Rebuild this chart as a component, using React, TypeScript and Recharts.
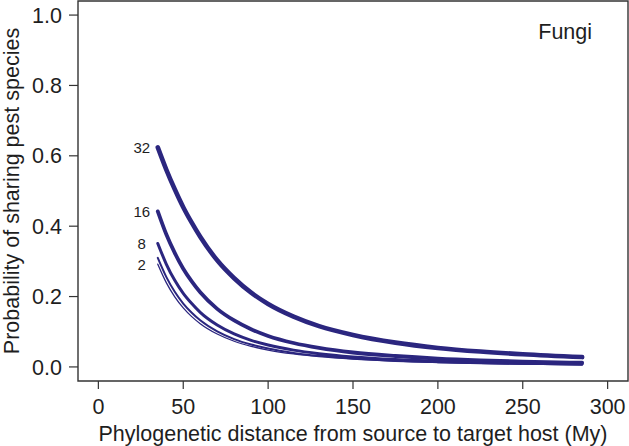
import React from 'react';
import { LineChart, Line, XAxis, YAxis, ReferenceArea, ReferenceDot, LabelList } from 'recharts';

const distances = [35, 40, 45, 50, 55, 60, 70, 80, 90, 100, 115, 130, 150, 175, 200, 225, 250, 285];
const p32 = [0.624, 0.561, 0.505, 0.454, 0.41, 0.37, 0.303, 0.252, 0.211, 0.179, 0.143, 0.116, 0.091, 0.069, 0.054, 0.0437, 0.036, 0.028];
const p16 = [0.442, 0.377, 0.324, 0.279, 0.243, 0.212, 0.165, 0.132, 0.107, 0.088, 0.068, 0.054, 0.041, 0.031, 0.0237, 0.0188, 0.0153, 0.0118];
const p8 = [0.351, 0.2925, 0.246, 0.209, 0.18, 0.155, 0.119, 0.0937, 0.0755, 0.0622, 0.0477, 0.0377, 0.0285, 0.0211, 0.0163, 0.0129, 0.0105, 0.0081];
const p4 = [0.31, 0.256, 0.2135, 0.18, 0.154, 0.1326, 0.101, 0.0791, 0.0636, 0.0522, 0.0399, 0.0315, 0.0239, 0.0176, 0.0136, 0.0107, 0.0087, 0.0067];
const p2 = [0.292, 0.2397, 0.1994, 0.168, 0.143, 0.123, 0.0935, 0.073, 0.0586, 0.048, 0.0368, 0.029, 0.0219, 0.0162, 0.0125, 0.0099, 0.008, 0.0062];

const xTicks = [0, 50, 100, 150, 200, 250, 300];
const yTicks = [0, 0.2, 0.4, 0.6, 0.8, 1.0];
const panelTitle = 'Fungi';
const xTitle = 'Phylogenetic distance from source to target host (My)';
const yTitle = 'Probability of sharing pest species';

const series = [
  { key: 'p32', label: '32', values: p32, width: 4.6 },
  { key: 'p16', label: '16', values: p16, width: 3.8 },
  { key: 'p8', label: '8', values: p8, width: 3.0 },
  { key: 'p4', label: '', values: p4, width: 2.0 },
  { key: 'p2', label: '2', values: p2, width: 1.3 },
];

const data = distances.map((d, i) => {
  const row: Record<string, number> = { d };
  series.forEach((s) => {
    row[s.key] = s.values[i];
  });
  return row;
});

const FONT = '"Liberation Sans", Arial, Helvetica, sans-serif';
const LINE = '#2b267f';
const INK = '#1e1e1e';
const BIG = 21.5;

const startLabel = (text: string) => (props: any) => {
  const { x, y, index } = props;
  if (index !== 0 || !text) return null;
  return (
    <text x={x - 16} y={y} textAnchor="middle" dominantBaseline="central" fontSize={15} fontFamily={FONT} fill={INK}>
      {text}
    </text>
  );
};

export default function App() {
  return (
    <div style={{ position: 'absolute', left: 0, top: 0, width: 629, height: 446, background: '#fff' }}>
      <LineChart width={629} height={446} data={data} margin={{ top: 1, right: 1, bottom: 0, left: 0 }}>
        <XAxis
          dataKey="d"
          type="number"
          domain={[-12, 312]}
          ticks={xTicks}
          allowDataOverflow
          axisLine={false}
          tickLine={{ stroke: '#333', strokeWidth: 1.2 }}
          tickSize={8}
          tickMargin={10}
          height={65}
          tick={{ fontSize: BIG, fontFamily: FONT, fill: INK }}
          label={{
            content: (p: any) => {
              const vb = p.viewBox;
              return (
                <text x={vb.x + vb.width / 2} y={441} textAnchor="middle" fontSize={BIG} fontFamily={FONT} fill={INK}>
                  {xTitle}
                </text>
              );
            },
          }}
        />
        <YAxis
          type="number"
          domain={[-0.04, 1.04]}
          ticks={yTicks}
          allowDataOverflow
          axisLine={false}
          tickLine={{ stroke: '#333', strokeWidth: 1.2 }}
          tickSize={9}
          tickMargin={7}
          width={78}
          tickFormatter={(v: number) => v.toFixed(1)}
          tick={{ fontSize: BIG, fontFamily: FONT, fill: INK }}
          label={{
            content: (p: any) => {
              const vb = p.viewBox;
              const cy = vb.y + vb.height / 2;
              return (
                <text
                  x={12}
                  y={cy}
                  transform={`rotate(-90 12 ${cy})`}
                  textAnchor="middle"
                  dominantBaseline="central"
                  fontSize={BIG}
                  fontFamily={FONT}
                  fill={INK}
                >
                  {yTitle}
                </text>
              );
            },
          }}
        />
        <ReferenceArea x1={-12} x2={312} y1={-0.04} y2={1.04} fill="none" stroke="#333" strokeWidth={1.4} ifOverflow="visible" />
        {series.map((s) => (
          <Line
            key={s.key}
            dataKey={s.key}
            type="monotone"
            stroke={LINE}
            strokeWidth={s.width}
            strokeLinecap="round"
            dot={false}
            activeDot={false}
            isAnimationActive={false}
          >
            <LabelList dataKey={s.key} content={startLabel(s.label)} />
          </Line>
        ))}
        <ReferenceDot
          x={275}
          y={0.954}
          r={0}
          fill="none"
          stroke="none"
          label={{ value: panelTitle, position: 'center', fontSize: BIG, fontFamily: FONT, fill: INK }}
        />
      </LineChart>
    </div>
  );
}
